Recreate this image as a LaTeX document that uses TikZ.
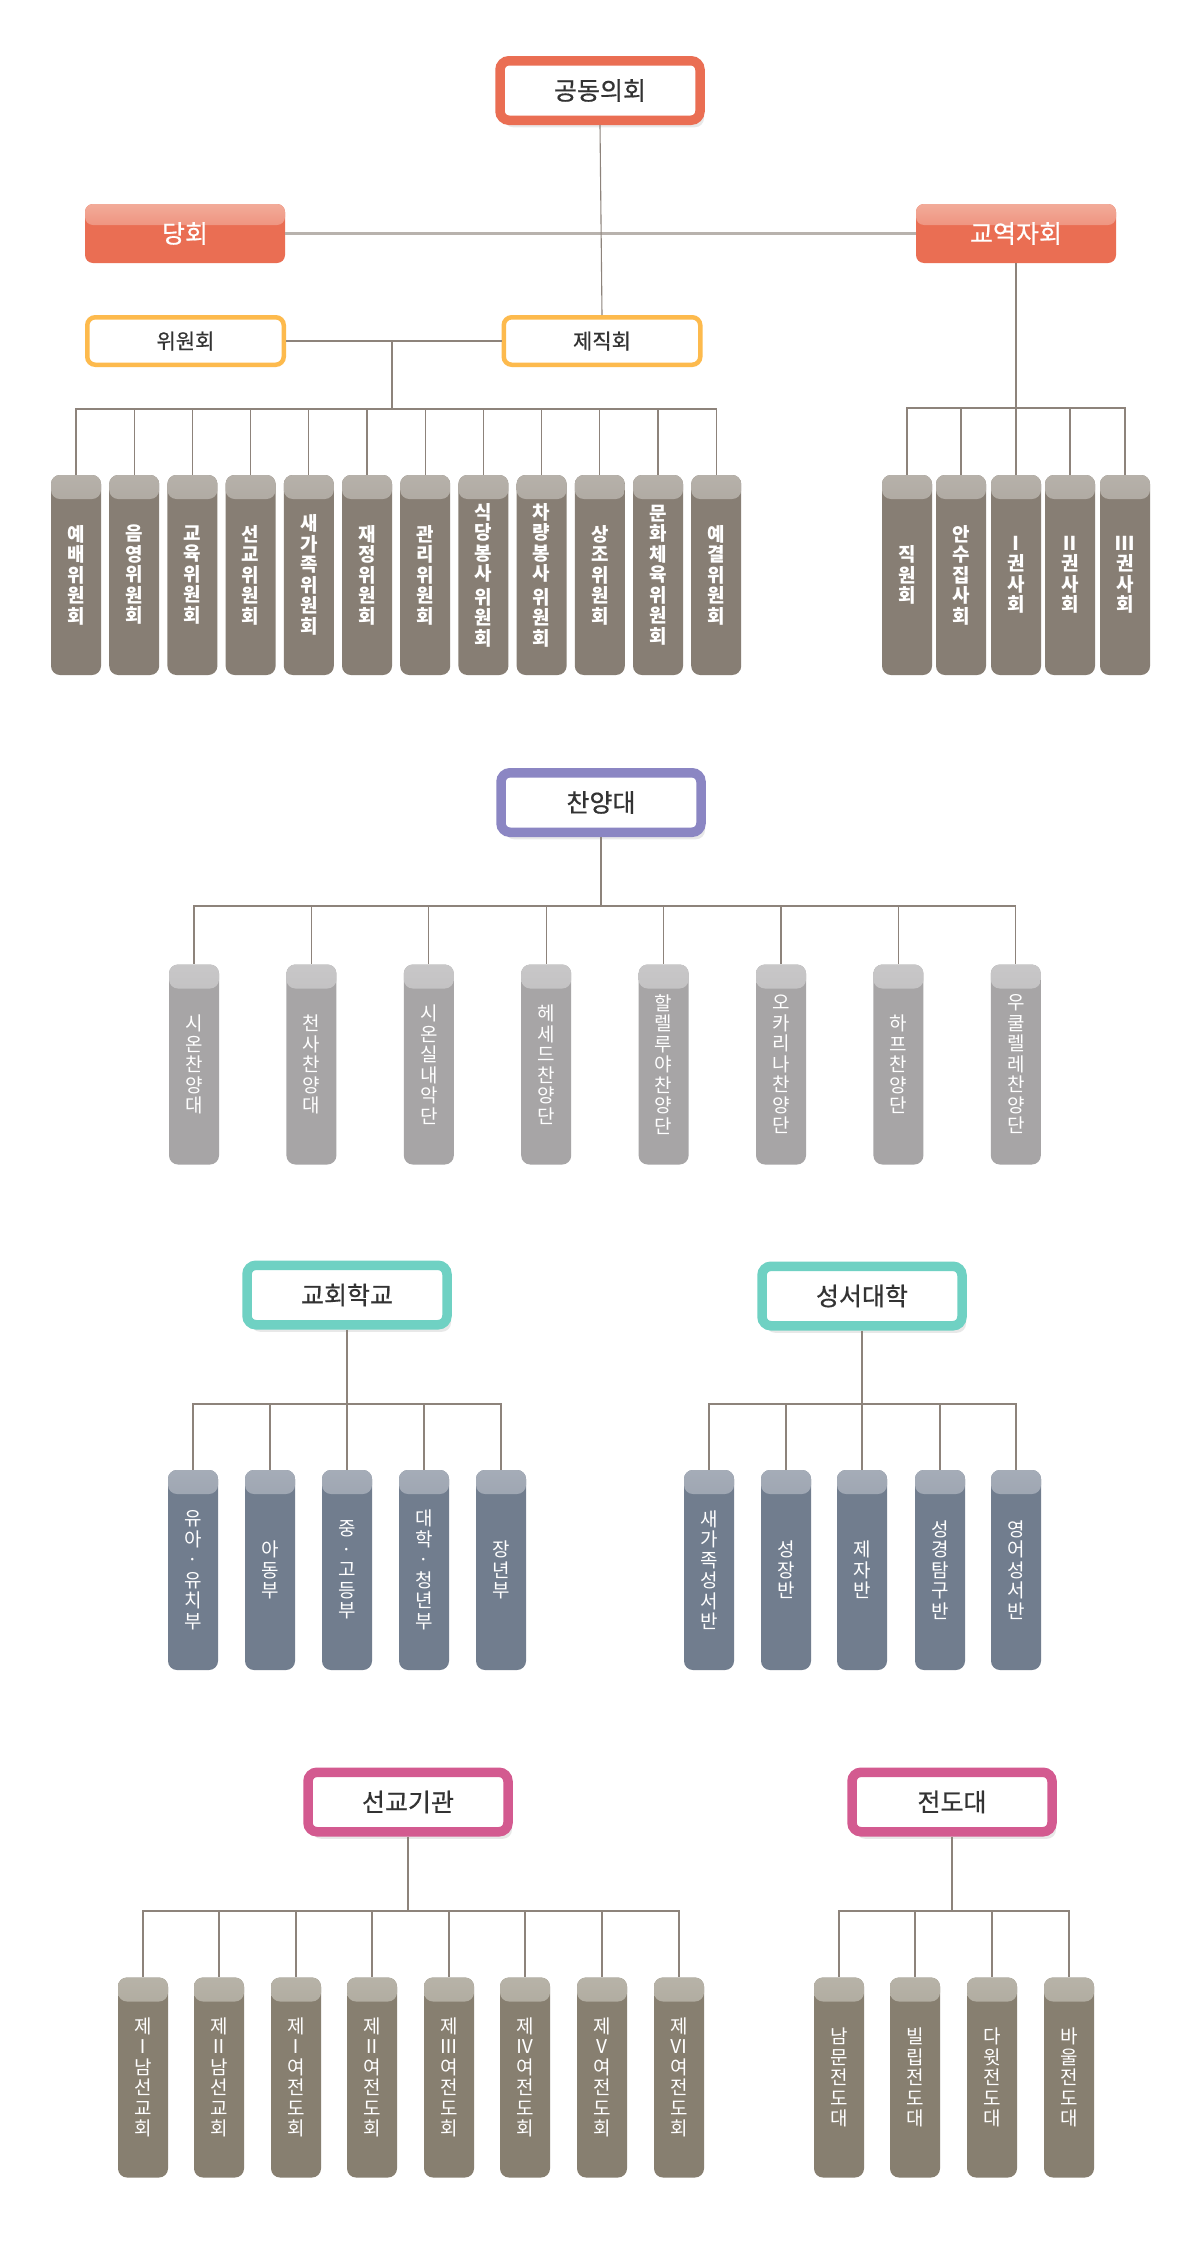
\documentclass[tikz,border=0pt]{standalone}
\usepackage{fontspec}
\setmainfont{Noto Sans CJK KR}
\newfontfamily\hdrfont[FakeBold=0.6]{Noto Sans CJK KR}
\usetikzlibrary{shadows}
\definecolor{corange}{HTML}{EA6E53}
\definecolor{corangehi}{HTML}{F3B2A2}
\definecolor{cyellow}{HTML}{FDBA4D}
\definecolor{cpurple}{HTML}{8B86C3}
\definecolor{cteal}{HTML}{6FD1C3}
\definecolor{cmag}{HTML}{D35A90}
\definecolor{cbrown}{HTML}{877E74}
\definecolor{cbrownhi}{HTML}{B8B3AC}
\definecolor{cgrey}{HTML}{A7A5A6}
\definecolor{cgreyhi}{HTML}{C9C8C9}
\definecolor{cslate}{HTML}{717D8E}
\definecolor{cslatehi}{HTML}{A7AEB9}
\definecolor{colive}{HTML}{877F70}
\definecolor{colivehi}{HTML}{B9B5AA}
\definecolor{cline}{HTML}{8D837B}
\definecolor{cmainline}{HTML}{B8B2AD}
\definecolor{textdark}{HTML}{333333}
\begin{document}
\begin{tikzpicture}[x=1pt,y=-1pt,
  conn/.style={draw=cline, line width=1.1pt},
  mainline/.style={draw=cmainline, line width=2.2pt},
  hdr/.style={draw=#1, fill=white, line width=9.5pt, rounded corners=9pt,
    minimum width=200pt, minimum height=59.5pt, inner sep=0pt,
    font=\hdrfont\fontsize{25pt}{27pt}\selectfont, text=textdark,
    drop shadow={shadow xshift=4pt, shadow yshift=-7pt, opacity=0.18}},
  subhdr/.style={draw=cyellow, fill=white, line width=4.5pt, rounded corners=8pt,
    minimum width=196.5pt, minimum height=47.5pt, inner sep=0pt,
    font=\hdrfont\fontsize{21pt}{23pt}\selectfont, text=textdark},
  filledhdr/.style={fill=corange, rounded corners=8pt,
    minimum width=200pt, minimum height=59pt, inner sep=0pt,
    font=\hdrfont\fontsize{25pt}{27pt}\selectfont, text=white,
    path picture={\shade[top color=corangehi, bottom color=corange]
      ([yshift=7pt]path picture bounding box.north west) rectangle
      ([yshift=-21pt]path picture bounding box.north east);}},
  kid/.style 2 args={fill=#1, rounded corners=9pt, minimum width=50pt,
    minimum height=200pt, inner sep=0pt, text=white, align=center,
    font=\fontsize{19pt}{20.5pt}\selectfont,
    path picture={\shade[top color=#2, bottom color=#1]
      ([yshift=8pt]path picture bounding box.north west) rectangle
      ([yshift=-24pt]path picture bounding box.north east);}},
  bold/.style={font=\fontsize{19pt}{20.5pt}\selectfont\bfseries}
]
\useasboundingbox[fill=white] (0,0) rectangle (1200,2251);

% ---------- top structure ----------
\node[filledhdr] (dh) at (185,233.5) {당회};
\node[filledhdr] (gy) at (1016,233.5) {교역자회};
\node[subhdr] (wh) at (185.5,341) {위원회};
\node[subhdr] (jj) at (602,341) {제직회};
\draw[mainline] (dh.east) -- (gy.west);
\node[hdr=corange] (gd) at (600,90.5) {공동의회};
\draw[conn] (gd.south) -- (jj.north);
\draw[conn] (wh.east) -- (jj.west);
\coordinate (wj) at (392,341);
\coordinate (wbus) at (392,409);
\draw[conn] (wj) -- (wbus);
\coordinate (gbus) at (1016,408);
\draw[conn] (gy.south) -- (gbus);

\foreach \n/\x/\t in {
  c1/76/{예\\배\\위\\원\\회},
  c2/134.2/{음\\영\\위\\원\\회},
  c3/192.4/{교\\육\\위\\원\\회},
  c4/250.6/{선\\교\\위\\원\\회},
  c5/308.8/{새\\가\\족\\위\\원\\회},
  c6/367/{재\\정\\위\\원\\회},
  c7/425.2/{관\\리\\위\\원\\회},
  c8/483.4/{식\\당\\봉\\사\\[3pt]위\\원\\회},
  c9/541.6/{차\\량\\봉\\사\\[3pt]위\\원\\회},
  c10/599.8/{상\\조\\위\\원\\회},
  c11/658/{문\\화\\체\\육\\위\\원\\회},
  c12/716.2/{예\\결\\위\\원\\회}}{
  \node[kid={cbrown}{cbrownhi}, bold] (\n) at (\x,575) {\t};
  \draw[conn] (wbus) -| (\n.north);
}
\foreach \n/\x/\t in {
  r1/907/{직\\원\\회},
  r2/961/{안\\수\\집\\사\\회},
  r3/1016/{Ⅰ\\권\\사\\회},
  r4/1070/{Ⅱ\\권\\사\\회},
  r5/1125/{Ⅲ\\권\\사\\회}}{
  \node[kid={cbrown}{cbrownhi}, bold] (\n) at (\x,575) {\t};
  \draw[conn] (gbus) -| (\n.north);
}

% ---------- choir ----------
\node[hdr=cpurple] (cy) at (601,802.5) {찬양대};
\coordinate (cbus) at (601,906);
\draw[conn] (cy.south) -- (cbus);
\foreach \n/\x/\t in {
  s1/194/{시\\온\\찬\\양\\대},
  s2/311.4/{천\\사\\찬\\양\\대},
  s3/428.8/{시\\온\\실\\내\\악\\단},
  s4/546.2/{헤\\세\\드\\찬\\양\\단},
  s5/663.6/{할\\렐\\루\\야\\찬\\양\\단},
  s6/781/{오\\카\\리\\나\\찬\\양\\단},
  s7/898.4/{하\\프\\찬\\양\\단},
  s8/1015.8/{우\\쿨\\렐\\레\\찬\\양\\단}}{
  \node[kid={cgrey}{cgreyhi}] (\n) at (\x,1064.5) {\t};
  \draw[conn] (cbus) -| (\n.north);
}

% ---------- church school / bible college ----------
\node[hdr=cteal] (ks) at (347,1295) {교회학교};
\coordinate (kbus) at (347,1404);
\draw[conn] (ks.south) -- (kbus);
\foreach \n/\x/\t in {
  k1/193/{유\\아\\·\\유\\치\\부},
  k2/270/{아\\동\\부},
  k3/347/{중\\·\\고\\등\\부},
  k4/424/{대\\학\\·\\청\\년\\부},
  k5/501/{장\\년\\부}}{
  \node[kid={cslate}{cslatehi}] (\n) at (\x,1570) {\t};
  \draw[conn] (kbus) -| (\n.north);
}
\node[hdr=cteal] (sd) at (862,1296) {성서대학};
\coordinate (bbus) at (862,1404);
\draw[conn] (sd.south) -- (bbus);
\foreach \n/\x/\t in {
  b1/709/{새\\가\\족\\성\\서\\반},
  b2/786/{성\\장\\반},
  b3/862/{제\\자\\반},
  b4/940/{성\\경\\탐\\구\\반},
  b5/1016/{영\\어\\성\\서\\반}}{
  \node[kid={cslate}{cslatehi}] (\n) at (\x,1570) {\t};
  \draw[conn] (bbus) -| (\n.north);
}

% ---------- mission / evangelism ----------
\node[hdr=cmag] (sg) at (408,1802) {선교기관};
\coordinate (mbus) at (408,1911);
\draw[conn] (sg.south) -- (mbus);
\foreach \n/\x/\t in {
  m1/143/{제\\Ⅰ\\남\\선\\교\\회},
  m2/219/{제\\Ⅱ\\남\\선\\교\\회},
  m3/296/{제\\Ⅰ\\여\\전\\도\\회},
  m4/372/{제\\Ⅱ\\여\\전\\도\\회},
  m5/449/{제\\Ⅲ\\여\\전\\도\\회},
  m6/525/{제\\Ⅳ\\여\\전\\도\\회},
  m7/602/{제\\Ⅴ\\여\\전\\도\\회},
  m8/679/{제\\Ⅵ\\여\\전\\도\\회}}{
  \node[kid={colive}{colivehi}] (\n) at (\x,2077.5) {\t};
  \draw[conn] (mbus) -| (\n.north);
}
\node[hdr=cmag] (jd) at (952,1802) {전도대};
\coordinate (ebus) at (952,1911);
\draw[conn] (jd.south) -- (ebus);
\foreach \n/\x/\t in {
  e1/839/{남\\문\\전\\도\\대},
  e2/915/{빌\\립\\전\\도\\대},
  e3/992/{다\\윗\\전\\도\\대},
  e4/1069/{바\\울\\전\\도\\대}}{
  \node[kid={colive}{colivehi}] (\n) at (\x,2077.5) {\t};
  \draw[conn] (ebus) -| (\n.north);
}
\end{tikzpicture}
\end{document}
